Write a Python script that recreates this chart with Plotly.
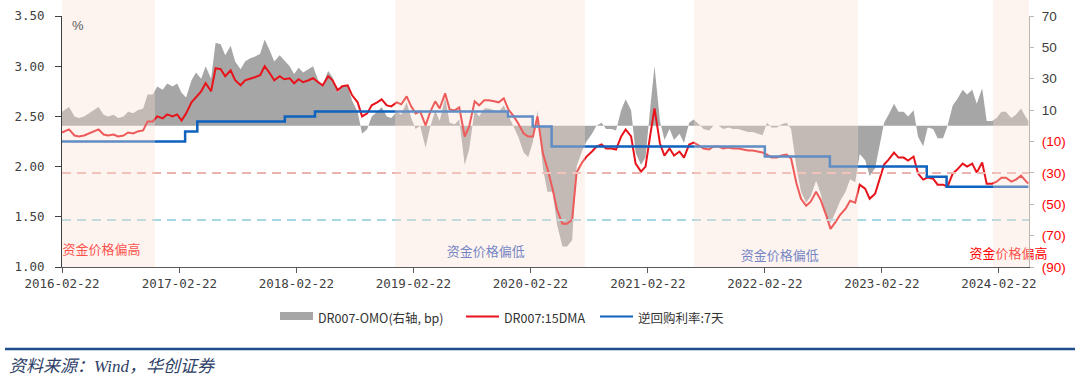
import plotly.graph_objects as go
import pandas as pd

# ---------------- data ----------------
semi = [d.strftime("%Y-%m-%d") for d in pd.date_range("2016-03-01", "2024-05-15", freq="SMS")]
dates = ["2016-02-22"] + semi + ["2024-05-24"]

# DR007 15DMA (%)
dr007 = [2.34,
    2.35, 2.37, 2.31, 2.30, 2.31, 2.33, 2.35, 2.37, 2.32, 2.31,
    2.32, 2.30, 2.31, 2.34, 2.33, 2.35, 2.36, 2.45, 2.45, 2.50,
    2.48, 2.52, 2.50, 2.52, 2.46, 2.53, 2.64, 2.69, 2.75, 2.83,
    2.75, 2.98, 2.97, 2.90, 2.96, 2.86, 2.81, 2.86, 2.88, 2.89,
    2.91, 3.00, 2.93, 2.86, 2.90, 2.87, 2.88, 2.83, 2.87, 2.84,
    2.86, 2.88, 2.84, 2.81, 2.90, 2.86, 2.76, 2.80, 2.81, 2.71,
    2.64, 2.50, 2.53, 2.61, 2.64, 2.67, 2.61, 2.60, 2.64, 2.62,
    2.70, 2.60, 2.53, 2.55, 2.41, 2.54, 2.65, 2.58, 2.73, 2.57,
    2.56, 2.59, 2.30, 2.40, 2.65, 2.61, 2.66, 2.66, 2.65, 2.64,
    2.68, 2.57, 2.50, 2.43, 2.33, 2.30, 2.30, 2.50, 2.13, 1.98,
    1.78, 1.57, 1.43, 1.43, 1.47, 1.94, 2.04, 2.10, 2.15, 2.20,
    2.22, 2.18, 2.18, 2.17, 2.30, 2.37, 2.30, 2.03, 1.95, 2.00,
    2.30, 2.58, 2.23, 2.11, 2.18, 2.11, 2.15, 2.09, 2.22, 2.24,
    2.21, 2.18, 2.17, 2.20, 2.20, 2.18, 2.19, 2.18, 2.18, 2.17,
    2.16, 2.16, 2.15, 2.14, 2.12, 2.09, 2.09, 2.11, 2.12, 2.08,
    1.83, 1.68, 1.61, 1.65, 1.75, 1.67, 1.52, 1.38, 1.45, 1.52,
    1.58, 1.66, 1.64, 1.82, 1.78, 1.68, 1.73, 1.87, 2.02, 2.07,
    2.14, 2.09, 2.09, 2.06, 2.10, 1.93, 1.87, 1.89, 1.88, 1.82,
    1.82, 1.80, 1.93, 1.97, 2.03, 2.00, 2.03, 1.94, 2.04, 1.83,
    1.83, 1.85, 1.89, 1.89, 1.85, 1.87, 1.91, 1.86,
    1.83]

# DR007-OMO spread (bp, right axis)
spread = [9,
    10, 12, 6, 5, 6, 8, 10, 12, 7, 6,
    7, 5, 6, 9, 8, 10, 11, 20, 20, 25,
    23, 27, 25, 27, 21, 18, 29, 34, 30, 38,
    30, 53, 52, 45, 51, 41, 36, 41, 43, 44,
    46, 55, 48, 41, 45, 42, 38, 33, 37, 34,
    36, 38, 29, 26, 35, 31, 21, 25, 26, 16,
    9, -5, -2, 6, 9, 12, 6, 5, 9, 7,
    15, 5, -2, 0, -14, -1, 10, 3, 18, 2,
    1, 4, -25, -15, 10, 6, 11, 11, 10, 9,
    13, 7, 0, -7, -17, -20, -10, 10, -27, -42,
    -42, -63, -77, -77, -73, -26, -16, -10, -5, 0,
    2, -2, -2, -3, 10, 17, 10, -17, -25, -20,
    10, 38, 3, -9, -2, -9, -5, -11, 2, 4,
    1, -2, -3, 0, 0, -2, -1, -2, -2, -3,
    -4, -4, -5, -6, 2, -1, -1, 1, 2, -2,
    -27, -42, -49, -45, -35, -43, -58, -62, -55, -48,
    -42, -34, -36, -18, -22, -32, -27, -13, 2, 7,
    14, 9, 9, 6, 10, -7, -13, -1, -2, -8,
    -8, 0, 13, 17, 23, 20, 23, 14, 24, 3,
    3, 5, 9, 9, 5, 7, 11, 6,
    3]

# 7-day reverse repo rate (%), step changes
omo_dates = ["2016-02-22", "2017-03-12", "2017-04-19", "2018-01-17", "2018-04-21",
             "2019-12-14", "2020-02-29", "2020-04-28", "2022-02-22", "2022-09-13",
             "2023-07-12", "2023-09-12", "2024-05-24"]
omo_rate = [2.25, 2.35, 2.45, 2.50, 2.55, 2.50, 2.40, 2.20, 2.10, 2.00, 1.90, 1.80, 1.80]

# shaded periods
shade_start = ["2016-02-22", "2018-12-27", "2021-07-16", "2024-02-04"]
shade_end = ["2016-12-08", "2020-08-10", "2022-12-10", "2024-05-26"]

# period labels
label_text = ["资金价格偏高", "资金价格偏低", "资金价格偏低", "资金价格偏高"]
label_date = ["2016-06-24", "2019-10-06", "2022-04-10", "2024-03-23"]
label_level = [1.16, 1.142, 1.10, 1.12]
label_color = ["#FF0000", "#2E54BE", "#2E54BE", "#FF0000"]

# reference levels (bp, right axis)
ref_levels = [-30, -60]
ref_colors = ["#EBB3AE", "#A6D8E2"]

x_ticks = ["2016-02-22", "2017-02-22", "2018-02-22", "2019-02-22", "2020-02-22",
           "2021-02-22", "2022-02-22", "2023-02-22", "2024-02-22"]
left_ticks = [1.0, 1.5, 2.0, 2.5, 3.0, 3.5]
left_text = ["1.00", "1.50", "2.00", "2.50", "3.00", "3.50"]
right_ticks = [-90, -70, -50, -30, -10, 10, 30, 50, 70]
right_text = ["(90)", "(70)", "(50)", "(30)", "(10)", "10", "30", "50", "70"]

# ---------------- figure ----------------
RED = "#E8141C"
BLUE = "#0F62BE"
GRAY = "#A6A6A6"
CJK = "Noto Sans CJK SC"

fig = go.Figure()

fig.add_trace(go.Scatter(x=dates, y=spread, yaxis="y", mode="lines",
                         line=dict(width=0, color=GRAY), fill="tozeroy",
                         fillcolor=GRAY, showlegend=False, hoverinfo="skip"))
fig.add_trace(go.Scatter(x=dates, y=dr007, yaxis="y2", mode="lines",
                         line=dict(width=2, color=RED), showlegend=False))
fig.add_trace(go.Scatter(x=omo_dates, y=omo_rate, yaxis="y2", mode="lines",
                         line=dict(width=2.5, color=BLUE, shape="hv"), showlegend=False))
fig.add_trace(go.Scatter(x=label_date, y=label_level, yaxis="y2", mode="text",
                         text=label_text, textposition="middle center",
                         textfont=dict(family=CJK, size=13, color=label_color),
                         cliponaxis=False, showlegend=False, hoverinfo="skip"))

shapes = []
for lvl, col in zip(ref_levels, ref_colors):
    shapes.append(dict(type="line", xref="paper", x0=0, x1=1, yref="y", y0=lvl, y1=lvl,
                       line=dict(color=col, width=2, dash="9px,6px"), layer="above"))
for s, e in zip(shade_start, shade_end):
    shapes.append(dict(type="rect", xref="x", x0=s, x1=e, yref="paper", y0=0, y1=1.064,
                       fillcolor="rgba(249,224,209,0.35)", line=dict(width=0), layer="above"))

# custom legend (paper coordinates)
def px(v):
    return (v - 62) / 967.0

def py(v):
    return (267 - v) / 251.0

shapes.append(dict(type="rect", xref="paper", yref="paper", x0=px(280), x1=px(313),
                   y0=py(320), y1=py(312), fillcolor=GRAY, line=dict(width=0)))
shapes.append(dict(type="line", xref="paper", yref="paper", x0=px(466), x1=px(499),
                   y0=py(316.5), y1=py(316.5), line=dict(color=RED, width=2)))
shapes.append(dict(type="line", xref="paper", yref="paper", x0=px(600), x1=px(633),
                   y0=py(316.5), y1=py(316.5), line=dict(color=BLUE, width=2)))
# bottom rule
shapes.append(dict(type="line", xref="paper", yref="paper", x0=px(5), x1=px(1075),
                   y0=py(349), y1=py(349), line=dict(color="#1F4E8C", width=2.5)))

annotations = [
    dict(text="%", xref="paper", yref="paper", x=px(70), y=py(26), xanchor="left",
         yanchor="middle", showarrow=False, font=dict(family="Liberation Sans", size=13, color="#595959")),
    dict(text="DR007-OMO(右轴, bp)", xref="paper", yref="paper", x=px(316), y=py(317),
         xanchor="left", yanchor="middle", showarrow=False,
         font=dict(family=CJK, size=12.5, color="#333333")),
    dict(text="DR007:15DMA", xref="paper", yref="paper", x=px(502), y=py(317),
         xanchor="left", yanchor="middle", showarrow=False,
         font=dict(family=CJK, size=12.5, color="#333333")),
    dict(text="逆回购利率:7天", xref="paper", yref="paper", x=px(636), y=py(317),
         xanchor="left", yanchor="middle", showarrow=False,
         font=dict(family=CJK, size=12.5, color="#333333")),
    dict(text="<i>资料来源：Wind，华创证券</i>", xref="paper", yref="paper", x=px(7), y=py(366),
         xanchor="left", yanchor="middle", showarrow=False,
         font=dict(family="Liberation Serif, " + CJK, size=17, color="#2E3E66")),
]

right_ticktext = [("<span style='color:#FF0000'>%s</span>" % t) if v < 0 else t
                  for v, t in zip(right_ticks, right_text)]

fig.update_layout(
    width=1080, height=381, autosize=False,
    margin=dict(l=62, r=51, t=16, b=114),
    paper_bgcolor="white", plot_bgcolor="white",
    showlegend=False,
    shapes=shapes, annotations=annotations,
    xaxis=dict(type="date", range=["2016-02-22", "2024-05-26"], automargin=False,
               tickmode="array", tickvals=x_ticks, ticktext=x_ticks,
               ticks="outside", ticklen=5, tickcolor="#595959", tickwidth=1,
               showline=True, linecolor="#595959", linewidth=1,
               showgrid=False, zeroline=False,
               tickfont=dict(family="DejaVu Sans Mono", size=12.5, color="#404040")),
    yaxis=dict(side="right", range=[-90, 70], tickmode="array", automargin=False,
               tickvals=right_ticks, ticktext=right_ticktext,
               ticks="outside", ticklen=4, tickcolor="#BDB5AE",
               showline=True, linecolor="#BDB5AE", linewidth=1,
               showgrid=False, zeroline=False, ticklabelstandoff=5,
               tickfont=dict(family="Liberation Sans", size=13.5, color="#404040")),
    yaxis2=dict(overlaying="y", side="left", range=[1.0, 3.5], tickmode="array",
                automargin=False,
                tickvals=left_ticks, ticktext=left_text,
                ticks="outside", ticklen=6, tickcolor="#404040",
                showline=True, linecolor="#404040", linewidth=1,
                showgrid=False, zeroline=False, ticklabelstandoff=8,
                tickfont=dict(family="DejaVu Sans Mono", size=12.5, color="#404040")),
)

assert len(dates) == len(dr007) == len(spread)
fig.write_html("out.html", config={"displayModeBar": False},
               post_script="document.body.style.margin='0';document.body.style.padding='0';"
                           "document.documentElement.style.overflow='hidden';")
